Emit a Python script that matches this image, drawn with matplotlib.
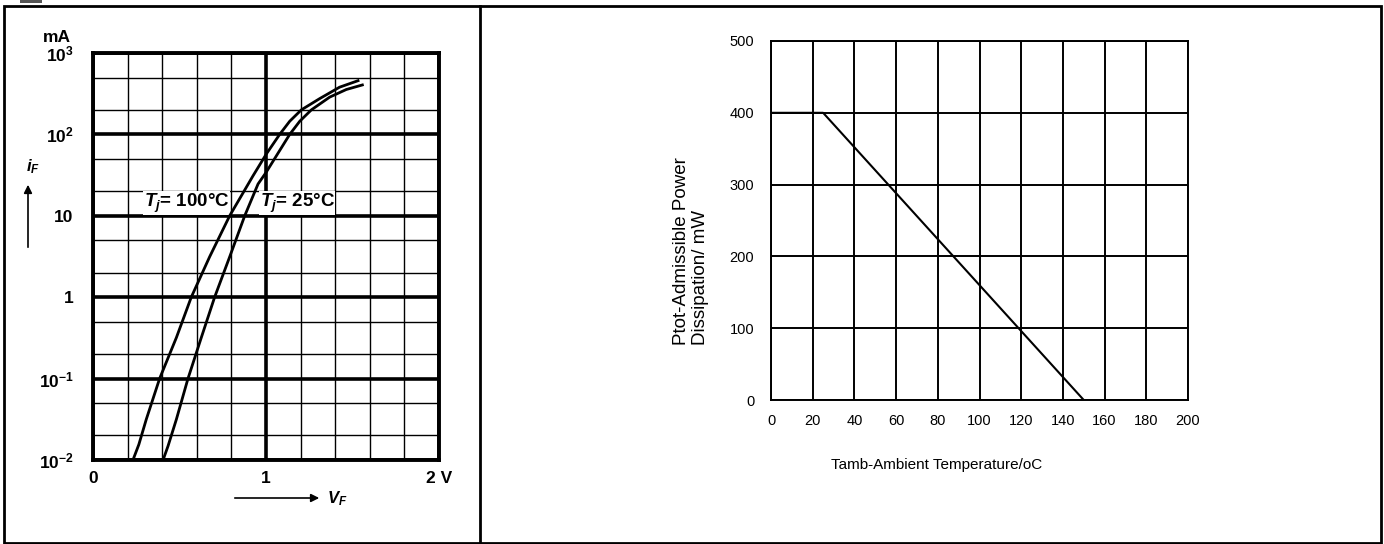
import numpy as np
import matplotlib
matplotlib.use('Agg')
import matplotlib.pyplot as plt
from matplotlib.ticker import NullFormatter, FixedLocator
from matplotlib.patches import Rectangle, FancyArrowPatch
from matplotlib.lines import Line2D

plt.rcParams['font.family'] = ['Liberation Sans', 'DejaVu Sans']
plt.rcParams['mathtext.fontset'] = 'custom'
plt.rcParams['mathtext.rm'] = 'Liberation Sans:bold'
plt.rcParams['mathtext.bf'] = 'Liberation Sans:bold'
plt.rcParams['mathtext.it'] = 'Liberation Sans:bold:italic'

# Forward characteristic
vf_100 = [0.231, 0.265, 0.308, 0.385, 0.482, 0.568, 0.674, 0.790, 0.925, 1.002, 1.079, 1.137,
          1.204, 1.310, 1.425, 1.532]
if_100 = [0.01, 0.0155, 0.0316, 0.1, 0.319, 1, 3.13, 10, 31, 57.5, 100, 145,
          200, 275, 380, 457]
vf_25 = [0.405, 0.434, 0.482, 0.549, 0.626, 0.703, 0.790, 0.877, 0.954, 1.0, 1.137, 1.195,
         1.262, 1.368, 1.464, 1.557]
if_25 = [0.01, 0.0149, 0.0316, 0.1, 0.319, 1, 3.13, 10, 24.6, 34, 100, 145,
         200, 287, 356, 405]

if_ticks = [0.01, 0.1, 1, 10, 100, 1000]
if_labels = [r'$\mathbf{10^{-2}}$', r'$\mathbf{10^{-1}}$', '1', '10', r'$\mathbf{10^{2}}$', r'$\mathbf{10^{3}}$']
vf_ticks = [0, 1, 2]
vf_labels = ['0', '1', '2 V']

# Power derating
t_amb = [0, 25, 150]
p_tot = [400, 400, 0]
t_ticks = list(range(0, 201, 20))
p_ticks = [0, 100, 200, 300, 400, 500]

W, H = 1384, 544
fig = plt.figure(figsize=(W / 100, H / 100), dpi=100)

def px(x0, y0, x1, y1):
    return [x0 / W, 1 - y1 / H, (x1 - x0) / W, (y1 - y0) / H]

# table frame
fig.patches.append(Rectangle((4 / W, 1 - 543 / H), 1377 / W, 537 / H, transform=fig.transFigure,
                             fill=False, lw=2, ec='black'))
fig.lines.append(Line2D([480 / W, 480 / W], [1 - 543 / H, 1 - 6 / H], transform=fig.transFigure,
                        lw=2, color='black'))
fig.patches.append(Rectangle((20 / W, 1 - 3 / H), 22 / W, 3 / H, transform=fig.transFigure,
                             color='#555555', lw=0))

# ---- left chart
ax1 = fig.add_axes(px(93, 53, 439, 460))
ax1.set_yscale('log')
ax1.set_xlim(0, 2)
ax1.set_ylim(0.01, 1000)
ax1.set_yticks(if_ticks)
ax1.set_yticklabels(if_labels)
minor_y = [m * 10.0 ** e for e in range(-2, 3) for m in (2, 5)]
ax1.yaxis.set_minor_locator(FixedLocator(minor_y))
ax1.yaxis.set_minor_formatter(NullFormatter())
ax1.set_xticks(vf_ticks)
ax1.set_xticklabels(vf_labels)
ax1.set_xticks(np.arange(0, 2.01, 0.2), minor=True)
ax1.grid(True, which='major', color='black', lw=2.6)
ax1.grid(True, which='minor', color='black', lw=1.0)
ax1.set_axisbelow(True)
ax1.tick_params(which='both', length=0)
ax1.tick_params(axis='y', pad=14, labelsize=12.5)
ax1.tick_params(axis='x', pad=8, labelsize=12.5)
for lbl in ax1.get_xticklabels() + ax1.get_yticklabels():
    lbl.set_fontweight('bold')
for s in ax1.spines.values():
    s.set_linewidth(2.8)

ax1.plot(vf_100, if_100, color='black', lw=2.0, zorder=3, solid_joinstyle='round')
ax1.plot(vf_25, if_25, color='black', lw=2.0, zorder=3, solid_joinstyle='round')

ax1.text(0.54, 14.4, r'$T_j$= 100°C', ha='center', va='center', fontsize=13.5, fontweight='bold',
         bbox=dict(fc='white', ec='none', pad=0.5), zorder=2)
ax1.text(1.18, 14.4, r'$T_j$= 25°C', ha='center', va='center', fontsize=13.5, fontweight='bold',
         bbox=dict(fc='white', ec='none', pad=0.5), zorder=2)

fig.text(57 / W, 1 - 38 / H, 'mA', ha='center', va='center', fontsize=12.5, fontweight='bold')
fig.text(33 / W, 1 - 167 / H, r'$i_F$', ha='center', va='center', fontsize=12)
fig.add_artist(FancyArrowPatch((28 / W, 1 - 250 / H), (28 / W, 1 - 182 / H),
               transform=fig.transFigure, arrowstyle='-|>', mutation_scale=12, lw=1.2, color='black'))
fig.add_artist(FancyArrowPatch((232 / W, 1 - 498 / H), (322 / W, 1 - 498 / H),
               transform=fig.transFigure, arrowstyle='-|>', mutation_scale=12, lw=1.2, color='black'))
fig.text(337 / W, 1 - 499 / H, r'$V_F$', ha='center', va='center', fontsize=12)

# ---- right chart
ax2 = fig.add_axes(px(771, 41, 1188, 400))
ax2.set_xlim(0, 200)
ax2.set_ylim(0, 500)
ax2.set_xticks(t_ticks)
ax2.set_yticks(p_ticks)
ax2.grid(True, color='black', lw=1.4)
ax2.set_axisbelow(True)
ax2.tick_params(length=0, labelsize=10.5)
ax2.tick_params(axis='y', pad=12)
ax2.tick_params(axis='x', pad=10)
for s in ax2.spines.values():
    s.set_linewidth(1.4)
ax2.plot(t_amb, p_tot, color='black', lw=1.5)

fig.text(691 / W, 1 - 345 / H, 'Ptot-Admissible Power\nDissipation/ mW', rotation=90,
         ha='center', va='bottom', multialignment='left', fontsize=13.5, linespacing=1.1)
fig.text(937 / W, 1 - 465 / H, 'Tamb-Ambient Temperature/oC', ha='center', va='center', fontsize=11)

fig.savefig('out.png', dpi=100, facecolor='white')
